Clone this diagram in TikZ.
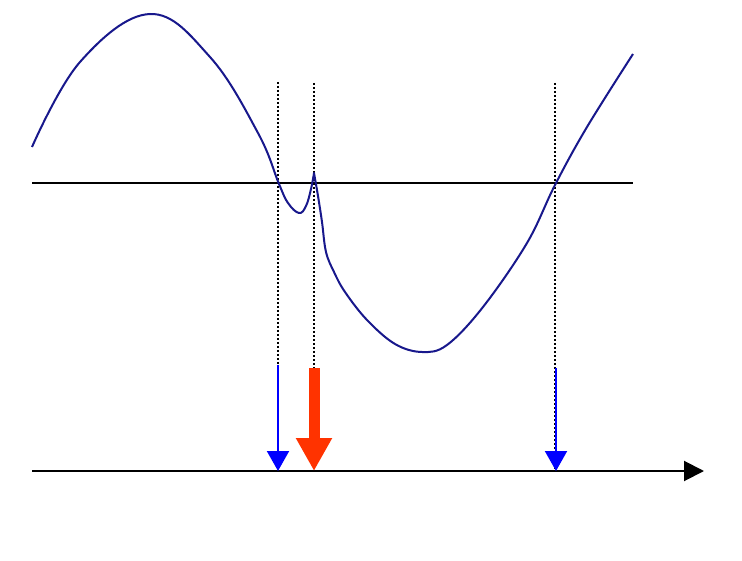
\documentclass[tikz,border=0pt]{standalone}
\usetikzlibrary{arrows.meta}
\definecolor{curveblue}{RGB}{24,24,140}
\definecolor{arrowblue}{RGB}{0,0,255}
\definecolor{arrowred}{RGB}{255,51,0}
\tikzset{
  curve/.style={draw=curveblue, line width=2pt, line join=round},
  axisline/.style={draw=black, line width=2pt},
  guide/.style={draw=black, line width=1.8pt, dash pattern=on 2pt off 2pt},
  bluearrow/.style={draw=arrowblue, line width=2pt, -{Triangle[width=22pt,length=20pt]}},
  redarrow/.style={draw=arrowred, line width=11pt, -{Triangle[width=34pt,length=33pt]}},
}
\begin{document}
\begin{tikzpicture}[x=1pt,y=-1pt]
\useasboundingbox[fill=white] (0,0) rectangle (742,561);
% coordinates
\coordinate (hl) at (32,183);
\coordinate (hr) at (633,183);
\coordinate (al) at (32,471);
\coordinate (ar) at (704,471);
\coordinate (g1t) at (278,82);
\coordinate (g1b) at (278,470);
\coordinate (g2t) at (314,83);
\coordinate (g2b) at (314,470);
\coordinate (g3t) at (555,83);
\coordinate (g3b) at (555,470);
\coordinate (b1s) at (278,365);
\coordinate (b1e) at (278,471);
\coordinate (r1s) at (314,368);
\coordinate (r1e) at (314,471);
\coordinate (b2s) at (556,368);
\coordinate (b2e) at (556,471);
% dotted guides
\draw[guide] (g1t) -- (g1b);
\draw[guide] (g2t) -- (g2b);
\draw[guide] (g3t) -- (g3b);
% horizontal line
\draw[axisline] (hl) -- (hr);
% bottom axis
\draw[axisline, -{Triangle[width=20pt,length=20pt]}] (al) -- (ar);
% curve
\draw[curve] plot[smooth, tension=0.65] coordinates {
 (32,147) (80,62) (150,14) (210,57) (258,133) (279,184) (288,203) (299,213) (306,206) (311,189) (314,173)}
 -- plot[smooth, tension=0.6] coordinates {
 (314,173) (318,196) (322,222) (326,252) (334,272) (345,292) (367,320)
 (395,344) (422,352) (447,345) (483,307) (527,243) (555,185) (587,127) (633,54)};
% arrows
\draw[bluearrow] (b1s) -- (b1e);
\draw[redarrow] (r1s) -- (r1e);
\draw[bluearrow] (b2s) -- (b2e);
\end{tikzpicture}
\end{document}
